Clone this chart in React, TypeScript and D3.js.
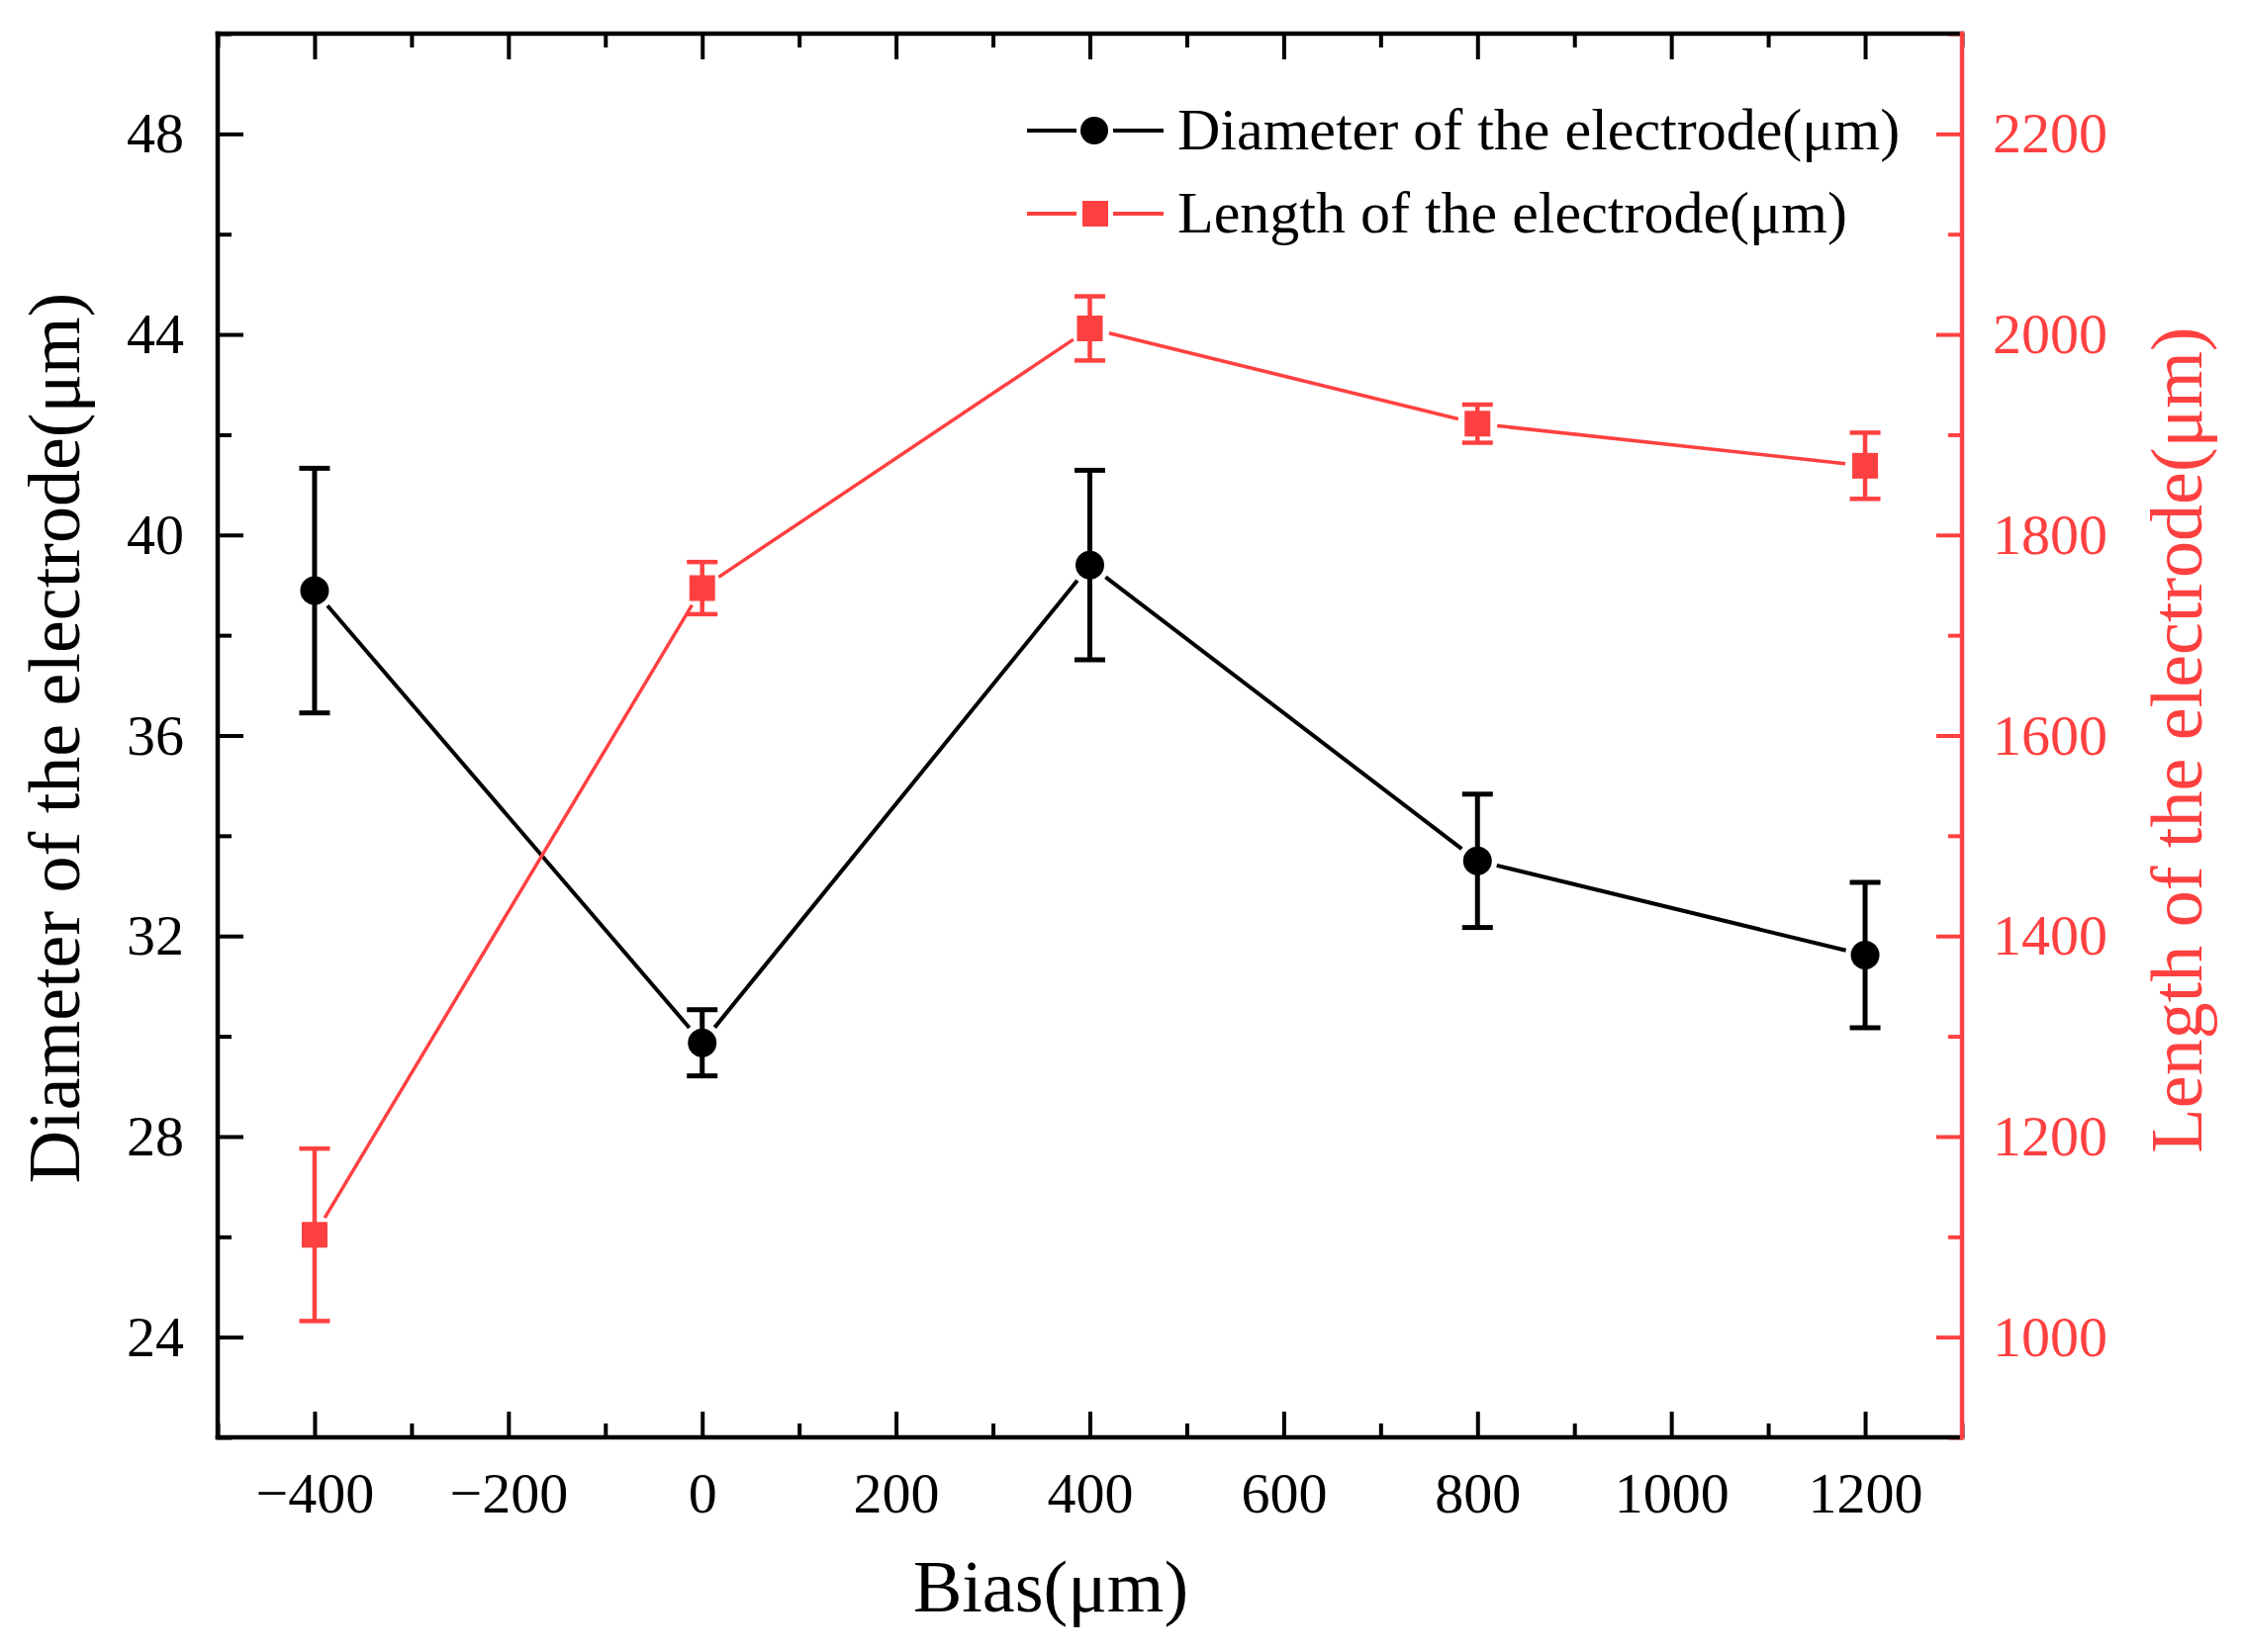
import { useRef, useEffect } from 'react';
import { scaleLinear, axisBottom, axisLeft, axisRight, axisTop, select, range, format } from 'd3';

const bias = [-400, 0, 400, 800, 1200];
const diameter = [38.89, 29.87, 39.4, 33.5, 31.62];
const diameterErr = [2.44, 0.66, 1.89, 1.33, 1.45];
const length = [1102, 1747, 2006, 1911, 1869];
const lengthErr = [86, 26, 32, 19, 33];

const xMajor = range(-400, 1201, 200);
const xMinor = range(-500, 1301, 100).filter((v) => !xMajor.includes(v));
const leftMajor = range(24, 49, 4);
const leftMinor = range(22, 51, 2).filter((v) => !leftMajor.includes(v));
const rightMajor = range(1000, 2201, 200);
const rightMinor = range(900, 2301, 100).filter((v) => !rightMajor.includes(v));

const W = 2269;
const H = 1670;
const FONT = '"Liberation Serif", "Times New Roman", serif';
const RED = '#ff4040';

const App = () => {
  const ref = useRef<SVGSVGElement>(null);

  useEffect(() => {
    if (!ref.current) return;
    const left = 220;
    const right = 1983;
    const top = 34;
    const bottom = 1453;

    const x = scaleLinear().domain([-500, 1300]).range([left, right]);
    const yL = scaleLinear().domain([22, 50]).range([bottom, top]);
    const yR = scaleLinear().domain([900, 2300]).range([bottom, top]);

    const svg = select(ref.current);
    svg.selectAll('*').remove();
    svg.append('rect').attr('width', W).attr('height', H).attr('fill', '#fff');

    const tidy = (g: any, color: string) => {
      g.attr('font-family', FONT).attr('font-size', 58).attr('color', color);
      g.select('.domain').remove();
      g.selectAll('.tick line').attr('stroke-width', 4);
    };
    const fmt = format('d');

    // bottom axis
    svg.append('g').attr('transform', `translate(0,${bottom})`)
      .call(axisBottom(x).tickValues(xMajor).tickSize(-26).tickPadding(35).tickFormat(fmt as any))
      .call((g) => tidy(g, '#000'));
    svg.append('g').attr('transform', `translate(0,${bottom})`)
      .call(axisBottom(x).tickValues(xMinor).tickSize(-14).tickFormat(() => ''))
      .call((g) => tidy(g, '#000'));
    // top axis
    svg.append('g').attr('transform', `translate(0,${top})`)
      .call(axisTop(x).tickValues(xMajor).tickSize(-26).tickFormat(() => ''))
      .call((g) => tidy(g, '#000'));
    svg.append('g').attr('transform', `translate(0,${top})`)
      .call(axisTop(x).tickValues(xMinor).tickSize(-14).tickFormat(() => ''))
      .call((g) => tidy(g, '#000'));
    // left axis
    svg.append('g').attr('transform', `translate(${left},0)`)
      .call(axisLeft(yL).tickValues(leftMajor).tickSize(-26).tickPadding(34).tickFormat(fmt as any))
      .call((g) => tidy(g, '#000'));
    svg.append('g').attr('transform', `translate(${left},0)`)
      .call(axisLeft(yL).tickValues(leftMinor).tickSize(-14).tickFormat(() => ''))
      .call((g) => tidy(g, '#000'));
    // right axis
    svg.append('g').attr('transform', `translate(${right},0)`)
      .call(axisRight(yR).tickValues(rightMajor).tickSize(-26).tickPadding(31).tickFormat(fmt as any))
      .call((g) => tidy(g, RED));
    svg.append('g').attr('transform', `translate(${right},0)`)
      .call(axisRight(yR).tickValues(rightMinor).tickSize(-14).tickFormat(() => ''))
      .call((g) => tidy(g, RED));

    // frame
    const frame = svg.append('g').attr('stroke-width', 4.5).attr('stroke-linecap', 'square');
    frame.append('line').attr('x1', left).attr('x2', right).attr('y1', top).attr('y2', top).attr('stroke', '#000');
    frame.append('line').attr('x1', left).attr('x2', right).attr('y1', bottom).attr('y2', bottom).attr('stroke', '#000');
    frame.append('line').attr('x1', left).attr('x2', left).attr('y1', top).attr('y2', bottom).attr('stroke', '#000');
    frame.append('line').attr('x1', right).attr('x2', right).attr('y1', top).attr('y2', bottom).attr('stroke', RED);

    // series
    const drawSeries = (vals: number[], errs: number[], y: any, color: string, lw: number, ew: number, square: boolean) => {
      const g = svg.append('g');
      const pts = bias.map((b, i) => [x(b), y(vals[i])]);
      const gap = 20;
      for (let i = 0; i < pts.length - 1; i++) {
        const [x1, y1] = pts[i];
        const [x2, y2] = pts[i + 1];
        const d = Math.hypot(x2 - x1, y2 - y1);
        const ux = (x2 - x1) / d;
        const uy = (y2 - y1) / d;
        g.append('line')
          .attr('x1', x1 + ux * gap).attr('y1', y1 + uy * gap)
          .attr('x2', x2 - ux * gap).attr('y2', y2 - uy * gap)
          .attr('stroke', color).attr('stroke-width', lw);
      }
      bias.forEach((b, i) => {
        const cx = x(b);
        const hi = y(vals[i] + errs[i]);
        const lo = y(vals[i] - errs[i]);
        g.append('line').attr('x1', cx).attr('x2', cx).attr('y1', hi).attr('y2', lo)
          .attr('stroke', color).attr('stroke-width', ew);
        [hi, lo].forEach((yy) => {
          g.append('line').attr('x1', cx - 15.5).attr('x2', cx + 15.5).attr('y1', yy).attr('y2', yy)
            .attr('stroke', color).attr('stroke-width', ew);
        });
        if (square) {
          g.append('rect').attr('x', cx - 13).attr('y', y(vals[i]) - 13).attr('width', 26).attr('height', 26).attr('fill', color);
        } else {
          g.append('circle').attr('cx', cx).attr('cy', y(vals[i])).attr('r', 14.5).attr('fill', color);
        }
      });
    };
    drawSeries(diameter, diameterErr, yL, '#000', 4, 5, false);
    drawSeries(length, lengthErr, yR, RED, 3.5, 4.5, true);

    // legend
    const legend = [
      { label: 'Diameter of the electrode(μm)', color: '#000', y: 132, square: false, base: 151 },
      { label: 'Length of the electrode(μm)', color: RED, y: 216, square: true, base: 235 },
    ];
    legend.forEach((l) => {
      const g = svg.append('g');
      g.append('line').attr('x1', 1038).attr('x2', 1088).attr('y1', l.y).attr('y2', l.y).attr('stroke', l.color).attr('stroke-width', 4);
      g.append('line').attr('x1', 1125).attr('x2', 1176).attr('y1', l.y).attr('y2', l.y).attr('stroke', l.color).attr('stroke-width', 4);
      if (l.square) {
        g.append('rect').attr('x', 1107 - 13).attr('y', l.y - 13).attr('width', 26).attr('height', 26).attr('fill', l.color);
      } else {
        g.append('circle').attr('cx', 1106).attr('cy', l.y).attr('r', 14).attr('fill', l.color);
      }
      g.append('text').attr('x', 1190).attr('y', l.base).attr('font-family', FONT).attr('font-size', 60)
        .attr('fill', '#000').text(l.label);
    });

    // titles
    svg.append('text').attr('x', 1062).attr('y', 1629).attr('text-anchor', 'middle')
      .attr('font-family', FONT).attr('font-size', 74).attr('fill', '#000').text('Bias(μm)');
    svg.append('text').attr('transform', 'translate(80,746) rotate(-90)').attr('text-anchor', 'middle')
      .attr('font-family', FONT).attr('font-size', 74).attr('fill', '#000').text('Diameter of the electrode(μm)');
    svg.append('text').attr('transform', 'translate(2225,748) rotate(-90)').attr('text-anchor', 'middle')
      .attr('font-family', FONT).attr('font-size', 74).attr('fill', RED).text('Length of the electrode(μm)');
  }, []);

  return (
    <svg
      ref={ref}
      width={W}
      height={H}
      style={{ position: 'absolute', left: 0, top: 0, display: 'block' }}
    />
  );
};

export default App;
